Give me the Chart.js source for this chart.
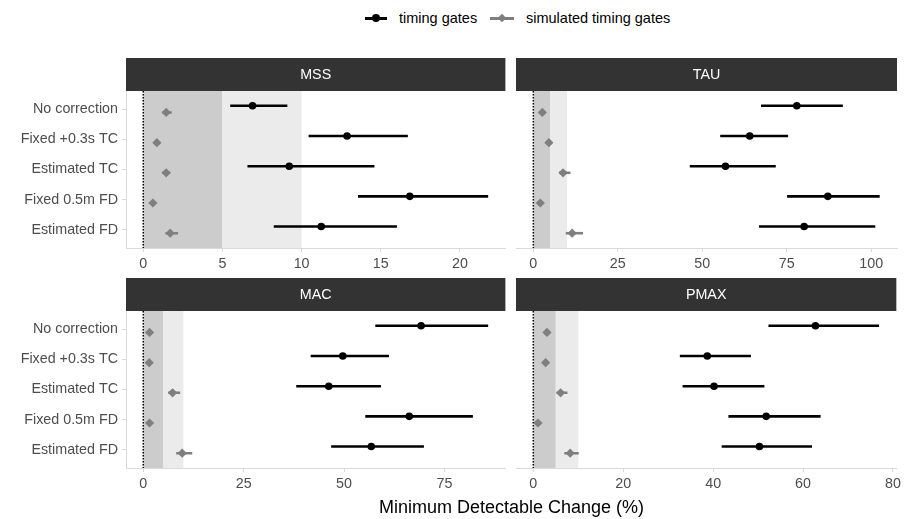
<!DOCTYPE html>
<html lang="en">
<head>
  <meta charset="UTF-8">
  <title>Minimum Detectable Change</title>
  <script src="https://cdn.jsdelivr.net/npm/chart.js"></script>
  <style>
    body {
      margin: 0;
      background: #fff;
      font-family: "Liberation Sans", Arial, sans-serif;
    }
    #wrap {
      position: relative;
      width: 904px;
      height: 519px;
      overflow: hidden;
    }
    canvas { position: absolute; }
    .legend-txt {
      position: absolute;
      top: 10px;
      font-size: 14.5px;
      color: #000;
      white-space: nowrap;
    }
    .legend-key {
      position: absolute;
      top: 17px;
      height: 2.5px;
    }
    .legend-key .dot {
      position: absolute;
      left: 50%;
      top: 50%;
      transform: translate(-50%, -50%);
    }
    #xtitle {
      position: absolute;
      left: 126px;
      width: 771px;
      top: 497px;
      text-align: center;
      font-size: 18px;
      color: #000;
    }
  </style>
</head>
<body>
<div id="wrap">
  <div class="legend-key" style="left:365px;width:22px;background:#000">
    <div class="dot" style="width:8px;height:8px;border-radius:50%;background:#000"></div>
  </div>
  <div class="legend-txt" style="left:399px">timing gates</div>
  <div class="legend-key" style="left:490px;width:24px;background:#7f7f7f">
    <div class="dot" style="width:6px;height:6px;background:#7f7f7f;transform:translate(-50%,-50%) rotate(45deg)"></div>
  </div>
  <div class="legend-txt" style="left:526px">simulated timing gates</div>

  <canvas id="mss" width="510" height="220" style="left:0;top:58px"></canvas>
  <canvas id="tau" width="394" height="220" style="left:510px;top:58px"></canvas>
  <canvas id="mac" width="510" height="220" style="left:0;top:278px"></canvas>
  <canvas id="pmax" width="394" height="220" style="left:510px;top:278px"></canvas>

  <div id="xtitle">Minimum Detectable Change (%)</div>
</div>

<script>
  // categories (top to bottom)
  const corrections = ['No correction', 'Fixed +0.3s TC', 'Estimated TC', 'Fixed 0.5m FD', 'Estimated FD'];

  // MSS
  const mssGates   = [6.9, 12.87, 9.22, 16.83, 11.24];
  const mssGatesLo = [5.49, 10.44, 6.58, 13.56, 8.24];
  const mssGatesHi = [9.1, 16.71, 14.6, 21.78, 16.02];
  const mssSim     = [1.45, 0.86, 1.45, 0.61, 1.7];
  const mssSimLo   = [1.2, 0.7, 1.2, 0.5, 1.4];
  const mssSimHi   = [1.8, 1.0, 1.7, 0.75, 2.2];
  const mssTicks   = [0, 5, 10, 15, 20];

  // TAU
  const tauGates   = [77.97, 64.05, 56.86, 87.15, 80.15];
  const tauGatesLo = [67.4, 55.3, 46.3, 75.1, 66.8];
  const tauGatesHi = [91.6, 75.4, 71.75, 102.5, 101.2];
  const tauSim     = [2.66, 4.6, 8.8, 2.07, 11.5];
  const tauSimLo   = [2.2, 4.0, 7.6, 1.7, 9.6];
  const tauSimHi   = [3.1, 5.2, 11.0, 2.5, 14.7];
  const tauTicks   = [0, 25, 50, 75, 100];

  // MAC
  const macGates   = [69.2, 49.7, 46.2, 66.25, 56.8];
  const macGatesLo = [57.8, 41.7, 38.1, 55.3, 46.8];
  const macGatesHi = [85.9, 61.2, 59.2, 82.1, 69.9];
  const macSim     = [1.57, 1.49, 7.3, 1.57, 9.7];
  const macSimLo   = [1.3, 1.2, 6.2, 1.3, 8.2];
  const macSimHi   = [1.9, 1.8, 9.2, 1.9, 12.2];
  const macTicks   = [0, 25, 50, 75];

  // PMAX
  const pmaxGates   = [62.76, 38.7, 40.2, 51.8, 50.3];
  const pmaxGatesLo = [52.3, 32.6, 33.2, 43.4, 41.9];
  const pmaxGatesHi = [76.9, 48.4, 51.4, 63.9, 62.0];
  const pmaxSim     = [3.04, 2.74, 6.07, 1.04, 8.2];
  const pmaxSimLo   = [2.6, 2.3, 5.2, 0.8, 6.9];
  const pmaxSimHi   = [3.5, 3.2, 7.6, 1.4, 10.1];
  const pmaxTicks   = [0, 20, 40, 60, 80];

  // shaded reference zones
  const bandDark = [0, 5];
  const bandLight = [5, 10];

  const FONT = '"Liberation Sans", Arial, sans-serif';
  const dodge = 0.11;

  // strip, bands and the dotted zero line
  const panelDecor = {
    id: 'panelDecor',
    beforeDatasetsDraw(chart, args, opts) {
      const { ctx, chartArea: a, scales: { x } } = chart;
      ctx.save();
      ctx.fillStyle = '#cccccc';
      const d0 = x.getPixelForValue(bandDark[0]), d1 = x.getPixelForValue(bandDark[1]);
      ctx.fillRect(d0, a.top, d1 - d0, a.bottom - a.top);
      ctx.fillStyle = '#ebebeb';
      const l1 = x.getPixelForValue(bandLight[1]);
      ctx.fillRect(d1, a.top, l1 - d1, a.bottom - a.top);
      ctx.strokeStyle = '#000';
      ctx.lineWidth = 1.5;
      ctx.setLineDash([1.5, 1.5]);
      ctx.beginPath();
      ctx.moveTo(d0, a.top);
      ctx.lineTo(d0, a.bottom);
      ctx.stroke();
      ctx.restore();
    },
    afterDraw(chart, args, opts) {
      const { ctx, chartArea: a } = chart;
      ctx.save();
      ctx.fillStyle = '#333333';
      ctx.fillRect(a.left, a.top - 33, a.right - a.left, 33);
      ctx.fillStyle = '#fff';
      ctx.font = '14.3px ' + FONT;
      ctx.textAlign = 'center';
      ctx.textBaseline = 'middle';
      ctx.fillText(opts.title, (a.left + a.right) / 2, a.top - 16);
      ctx.restore();
    }
  };

  function makePanel(id, title, gates, gLo, gHi, sim, sLo, sHi, ticks, showY) {
    const top = Math.max(...gHi, ...sHi);
    const pad = top * 0.05;
    const datasets = [];
    datasets.push({
      data: gates.map((v, i) => ({ x: v, y: i + 1 - dodge })),
      pointStyle: 'circle', pointRadius: 3.8, pointBackgroundColor: '#000',
      pointBorderWidth: 0, showLine: false, order: 0
    });
    datasets.push({
      data: sim.map((v, i) => ({ x: v, y: i + 1 + dodge })),
      pointStyle: 'rectRot', pointRadius: 4.6, pointBackgroundColor: '#7f7f7f',
      pointBorderWidth: 0, showLine: false, order: 0
    });
    corrections.forEach((c, i) => {
      datasets.push({
        data: [{ x: gLo[i], y: i + 1 - dodge }, { x: gHi[i], y: i + 1 - dodge }],
        showLine: true, borderColor: '#000', borderWidth: 2.6, pointRadius: 0, order: 2
      });
      datasets.push({
        data: [{ x: sLo[i], y: i + 1 + dodge }, { x: sHi[i], y: i + 1 + dodge }],
        showLine: true, borderColor: '#7f7f7f', borderWidth: 2.6, pointRadius: 0, order: 1
      });
    });

    new Chart(document.getElementById(id), {
      type: 'scatter',
      data: { datasets },
      plugins: [panelDecor],
      options: {
        responsive: false,
        animation: false,
        events: [],
        layout: { padding: { top: 33, right: showY ? 3 : 7, left: showY ? 0 : 6, bottom: 0 } },
        plugins: {
          legend: { display: false },
          tooltip: { enabled: false },
          panelDecor: { title }
        },
        scales: {
          x: {
            type: 'linear',
            min: -pad,
            max: top + pad,
            afterBuildTicks: s => { s.ticks = ticks.map(v => ({ value: v })); },
            afterFit: s => { s.height = 30; },
            grid: { drawOnChartArea: false, tickLength: 4, color: '#d9d9d9' },
            border: { color: '#d9d9d9' },
            ticks: {
              color: '#4d4d4d', padding: 3, maxRotation: 0,
              font: { size: 14.3, family: FONT },
              callback: v => v
            }
          },
          y: {
            type: 'linear',
            reverse: true,
            min: 0.4,
            max: 5.6,
            display: showY,
            afterBuildTicks: s => { s.ticks = corrections.map((c, i) => ({ value: i + 1 })); },
            afterFit: s => { s.width = showY ? 126 : 0; },
            grid: { drawOnChartArea: false, tickLength: 4, color: '#d9d9d9' },
            border: { color: '#d9d9d9' },
            ticks: {
              color: '#4d4d4d', padding: 4,
              font: { size: 14.3, family: FONT },
              callback: v => corrections[Math.round(v) - 1]
            }
          }
        }
      }
    });
  }

  makePanel('mss', 'MSS', mssGates, mssGatesLo, mssGatesHi, mssSim, mssSimLo, mssSimHi, mssTicks, true);
  makePanel('tau', 'TAU', tauGates, tauGatesLo, tauGatesHi, tauSim, tauSimLo, tauSimHi, tauTicks, false);
  makePanel('mac', 'MAC', macGates, macGatesLo, macGatesHi, macSim, macSimLo, macSimHi, macTicks, true);
  makePanel('pmax', 'PMAX', pmaxGates, pmaxGatesLo, pmaxGatesHi, pmaxSim, pmaxSimLo, pmaxSimHi, pmaxTicks, false);
</script>
</body>
</html>
